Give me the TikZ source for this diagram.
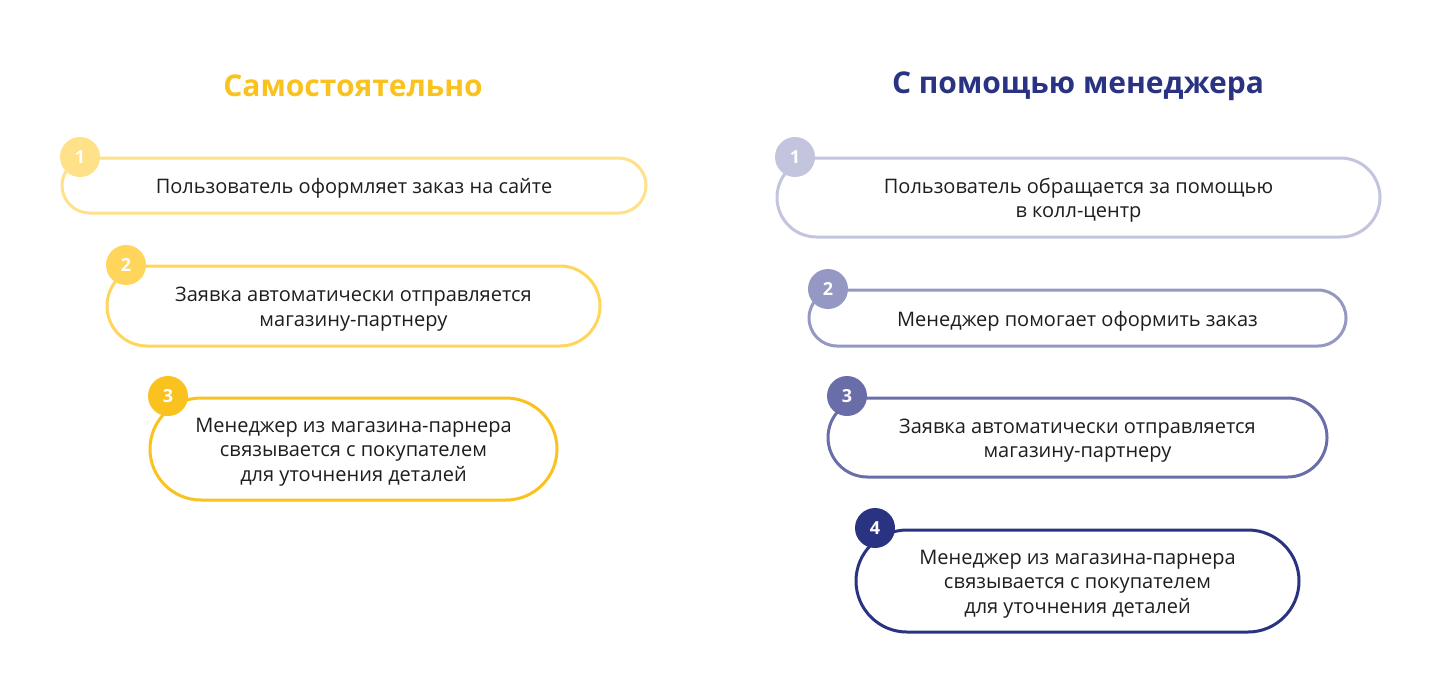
\documentclass[tikz,border=0pt]{standalone}
\usepackage{fontspec}
\setmainfont{Open Sans}
\usetikzlibrary{shapes.misc}

\definecolor{yellowA}{HTML}{FFE18A}
\definecolor{yellowB}{HTML}{FFD55C}
\definecolor{yellowC}{HTML}{FAC21E}
\definecolor{blueA}{HTML}{C3C5DE}
\definecolor{blueB}{HTML}{9598C3}
\definecolor{blueC}{HTML}{6A6EA8}
\definecolor{blueD}{HTML}{2A3282}
\definecolor{txt}{HTML}{1E1E1E}

\tikzset{
  stepbox/.style={rounded rectangle, draw=#1, line width=1.5pt, fill=white, inner sep=0pt},
  steptext/.style={align=center, text=txt, font=\fontsize{10}{12.2}\selectfont, inner sep=0pt},
  num/.style={circle, fill=#1, text=white, minimum size=20pt, inner sep=0pt,
    font=\fontsize{9}{10}\selectfont\bfseries},
  heading/.style={text=#1, font=\fontsize{15}{18}\selectfont\bfseries}
}

\begin{document}
\begin{tikzpicture}[x=0.5pt, y=-0.5pt]
        \useasboundingbox (0,0) rectangle (1440,698);

        % left column
        \node[heading=yellowC] (titleL) at(353, 86){Самостоятельно};

        \node[stepbox=yellowA, minimum width=292pt, minimum height=27.5pt] (l1) at(354, 185.5){};
        \node[steptext] (tl1) at([yshift=-1.5pt]l1.center){Пользователь оформляет заказ на сайте};
        \node[num=yellowA] (nl1) at(80, 157){1};

        \node[stepbox=yellowB, minimum width=246.5pt, minimum height=40pt] (l2) at(353.5, 306){};
        \node[steptext] (tl2) at([yshift=-1.5pt]l2.center){Заявка автоматически отправляется\\магазину-партнеру};
        \node[num=yellowB] (nl2) at(126, 265){2};

        \node[stepbox=yellowC, minimum width=203.5pt, minimum height=51pt] (l3) at(353.5, 449){};
        \node[steptext] (tl3) at([yshift=-1.5pt]l3.center){Менеджер из магазина-парнера\\связывается с покупателем\\для уточнения деталей};
        \node[num=yellowC] (nl3) at(168, 396){3};

        % right column
        \node[heading=blueD] (titleR) at(1078, 86){С помощью менеджера};

        \node[stepbox=blueA, minimum width=301.5pt, minimum height=39.5pt] (r1) at(1078.5, 197.5){};
        \node[steptext] (tr1) at([yshift=-1.5pt]r1.center){Пользователь обращается за помощью\\в колл-центр};
        \node[num=blueA] (nr1) at(795, 157){1};

        \node[stepbox=blueB, minimum width=268.5pt, minimum height=28pt] (r2) at(1077.5, 318){};
        \node[steptext] (tr2) at([yshift=-1.5pt]r2.center){Менеджер помогает оформить заказ};
        \node[num=blueB] (nr2) at(828, 289){2};

        \node[stepbox=blueC, minimum width=249.5pt, minimum height=39.5pt] (r3) at(1077.5, 437.5){};
        \node[steptext] (tr3) at([yshift=-1.5pt]r3.center){Заявка автоматически отправляется\\магазину-партнеру};
        \node[num=blueC] (nr3) at(847, 396){3};

        \node[stepbox=blueD, minimum width=221.5pt, minimum height=51pt] (r4) at(1077.5, 581){};
        \node[steptext] (tr4) at([yshift=-1.5pt]r4.center){Менеджер из магазина-парнера\\связывается с покупателем\\для уточнения деталей};
        \node[num=blueD] (nr4) at(875, 528){4};

\end{tikzpicture}
\end{document}
